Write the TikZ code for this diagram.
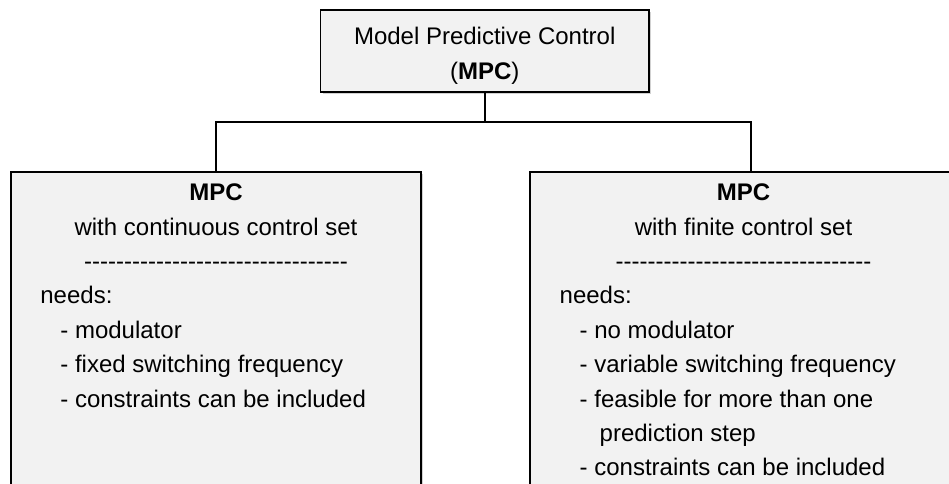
\documentclass[tikz,border=0pt]{standalone}
\usepackage{fontspec}
\setmainfont{Liberation Sans}[Ligatures=TeXOff]
\usetikzlibrary{positioning, shadows}
\definecolor{boxgray}{RGB}{242,242,242}

\tikzset{
  box/.style={draw=black, line width=0.9pt, fill=boxgray, inner sep=0pt,
    drop shadow={shadow xshift=1.2pt, shadow yshift=-1.2pt, opacity=0.18, fill=black}},
  txt/.style={inner sep=0pt, font=\fontsize{12pt}{17.25pt}\selectfont},
  link/.style={line width=1pt, black}
}

\begin{document}
\begin{tikzpicture}[x=0.5pt, y=-0.5pt]
\useasboundingbox (0,0) rectangle (949,483);
% boxes
\node[box, txt, align=center, minimum width=164.25pt, minimum height=41pt] (mpc) at (484.75,51)
    {\rule{0pt}{13.5pt}Model Predictive Control\\(\textbf{MPC})};
\node[box, minimum width=205pt, minimum height=184pt] (ccs) at (216,356) {};
\node[box, minimum width=220.5pt, minimum height=184pt] (fcs) at (750.5,356) {};

% tree
\draw[link] (mpc.south) -- ++(0,28.7) coordinate (fork);
\draw[link] (ccs.north) |- (fork) -| (fcs.north);

% continuous control set
\begin{scope}[txt]
\node[anchor=base] (ccs-title) at (216,200.7) {\textbf{MPC}};
\node[anchor=base] (ccs-sub) at (216,235.1) {with continuous control set};
\node[anchor=base] (ccs-rule) at (216,269.5) {---------------------------------};
\node[anchor=base west] (ccs-needs) at (40,303.9) {needs:};
\node[anchor=base west] (ccs-a) at (60,338.3) {- modulator};
\node[anchor=base west] (ccs-b) at (60,372.7) {- fixed switching frequency};
\node[anchor=base west] (ccs-c) at (60,407.1) {- constraints can be included};
\end{scope}

% finite control set
\begin{scope}[txt]
\node[anchor=base] (fcs-title) at (743.5,200.7) {\textbf{MPC}};
\node[anchor=base] (fcs-sub) at (743.5,235.1) {with finite control set};
\node[anchor=base] (fcs-rule) at (743.5,269.5) {--------------------------------};
\node[anchor=base west] (fcs-needs) at (559.3,303.9) {needs:};
\node[anchor=base west] (fcs-a) at (579.3,338.3) {- no modulator};
\node[anchor=base west] (fcs-b) at (579.3,372.7) {- variable switching frequency};
\node[anchor=base west] (fcs-c) at (579.3,407.1) {- feasible for more than one};
\node[anchor=base west] (fcs-c2) at (599.3,441.5) {prediction step};
\node[anchor=base west] (fcs-d) at (579.3,475.9) {- constraints can be included};
\end{scope}
\end{tikzpicture}
\end{document}
